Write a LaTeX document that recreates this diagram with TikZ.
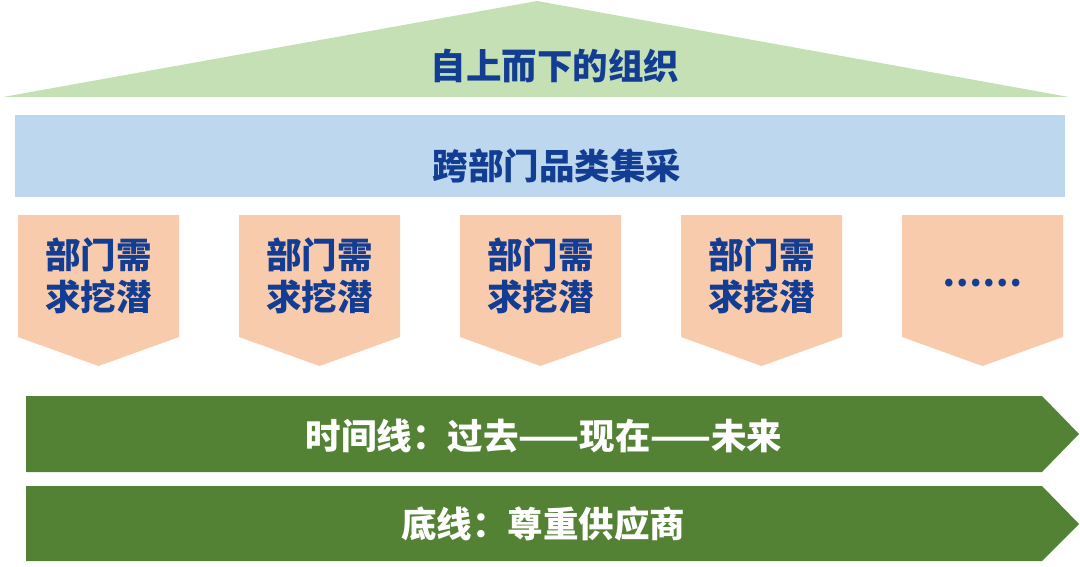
\documentclass[tikz,border=0pt]{standalone}
\usepackage{fontspec}
\newfontfamily\cjk{Noto Sans CJK SC}
\usetikzlibrary{calc}
\definecolor{roofgreen}{HTML}{C5E0B4}
\definecolor{bandblue}{HTML}{BDD7EE}
\definecolor{peach}{HTML}{F8CBAD}
\definecolor{darkgreen}{HTML}{548235}
\definecolor{titleblue}{HTML}{123D92}

\begin{document}
\begin{tikzpicture}[x=1pt,y=-1pt]
        \tikzset{boxtext/.style={font=\cjk\bfseries\fontsize{35.5}{42}\selectfont, text=titleblue, align=center, inner sep=0pt}}
        \tikzset{bartext/.style={boxtext, text=white}}
        \useasboundingbox (0,0) rectangle (1080,566);

        % roof and band
        \fill[roofgreen] (3,97) -- (537,1) -- (1069,97) -- cycle;
        \node[boxtext] (roof) at (555,66) {自上而下的组织};
        \fill[bandblue] (15,115) rectangle (1065,197);
        \node[boxtext] (band) at (557,166) {跨部门品类集采};

        % department pentagons
        \foreach \i in {0,...,4} {
            \fill[peach] ({18+221*\i},215) -- ({179+221*\i},215) -- ({179+221*\i},337)
                -- ({98.5+221*\i},366) -- ({18+221*\i},337) -- cycle;
        }
        \foreach \i in {0,...,3} {
            \node[boxtext] (dept\i) at ({98.5+221*\i},276) {部门需\\求挖潜};
        }
        \node[boxtext] (dept4) at (982.5,283) {……};

        % bottom arrows
        \fill[darkgreen] (26,396) -- (1042,396) -- (1079,434) -- (1042,472) -- (26,472) -- cycle;
        \node[bartext] (timeline) at (544,436) {时间线：过去——现在——未来};
        \fill[darkgreen] (26,486) -- (1042,486) -- (1079,524) -- (1042,561) -- (26,561) -- cycle;
        \node[bartext] (baseline) at (543,524) {底线：尊重供应商};
\end{tikzpicture}
\end{document}
